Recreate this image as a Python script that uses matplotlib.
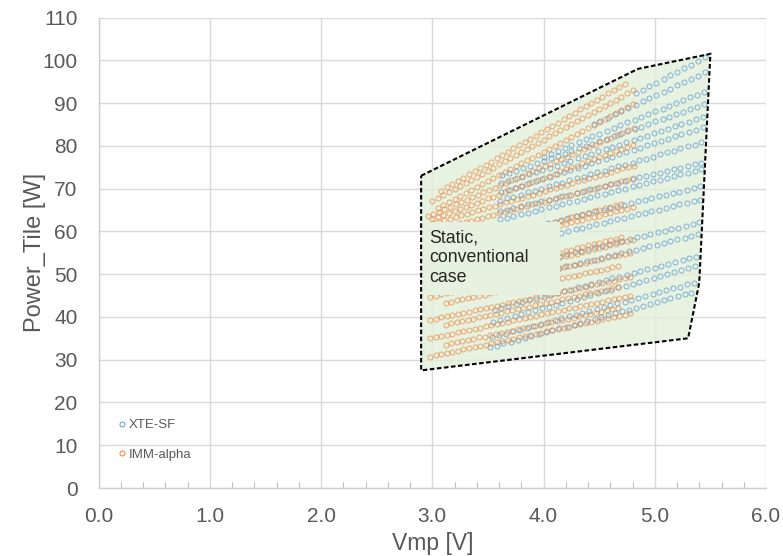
import matplotlib
matplotlib.use("Agg")
import matplotlib.pyplot as plt
from matplotlib.lines import Line2D
from matplotlib.patches import Polygon, Rectangle
from matplotlib.ticker import MultipleLocator

plt.rcParams['font.family'] = ['Liberation Sans', 'DejaVu Sans']

# ---------------- data ----------------
x_ticks = [0, 1, 2, 3, 4, 5, 6]
x_ticklabels = ['0.0', '1.0', '2.0', '3.0', '4.0', '5.0', '6.0']
y_ticks = [0, 10, 20, 30, 40, 50, 60, 70, 80, 90, 100, 110]

# envelope of the "static, conventional case"
env_vmp = [2.90, 4.85, 5.50, 5.40, 5.30, 2.90]
env_pow = [73.0, 98.0, 101.5, 48.0, 35.0, 27.5]

# ---- XTE-SF (Vmp [V], Power [W]) per sweep row ----
xte_v01 = [5.45, 5.39, 5.33, 5.26, 5.20, 5.14, 5.08, 5.01, 4.95, 4.89, 4.83]
xte_p01 = [100.7, 99.9, 99.0, 98.2, 97.3, 96.5, 95.7, 94.8, 94.0, 93.1, 92.3]
xte_v02 = [5.45, 5.39, 5.33, 5.26, 5.20, 5.14, 5.08, 5.01, 4.95, 4.89, 4.83, 4.76, 4.70, 4.64, 4.58, 4.51, 4.45]
xte_p02 = [97.2, 96.4, 95.7, 94.9, 94.2, 93.4, 92.7, 91.9, 91.2, 90.4, 89.6, 88.9, 88.1, 87.4, 86.6, 85.9, 85.1]
xte_v03 = [5.44, 5.38, 5.32, 5.25, 5.19, 5.13, 5.07, 5.00, 4.94, 4.88, 4.82, 4.75, 4.69, 4.63, 4.57, 4.50, 4.44, 4.38, 4.32, 4.25, 4.19, 4.13, 4.07, 4.00]
xte_p03 = [92.7, 92.0, 91.4, 90.7, 90.1, 89.4, 88.7, 88.1, 87.4, 86.8, 86.1, 85.5, 84.8, 84.1, 83.5, 82.8, 82.2, 81.5, 80.8, 80.2, 79.5, 78.9, 78.2, 77.5]
xte_v04 = [5.44, 5.38, 5.32, 5.25, 5.19, 5.13, 5.07, 5.00, 4.94, 4.88, 4.82, 4.75, 4.69, 4.63, 4.57, 4.50, 4.44, 4.38, 4.32, 4.25, 4.19, 4.13, 4.07, 4.00, 3.94, 3.88, 3.82, 3.75, 3.69, 3.63]
xte_p04 = [89.7, 89.1, 88.6, 88.0, 87.4, 86.8, 86.3, 85.7, 85.1, 84.5, 84.0, 83.4, 82.8, 82.2, 81.7, 81.1, 80.5, 79.9, 79.4, 78.8, 78.2, 77.6, 77.1, 76.5, 75.9, 75.4, 74.8, 74.2, 73.6, 73.1]
xte_v05 = [5.43, 5.37, 5.31, 5.24, 5.18, 5.12, 5.06, 4.99, 4.93, 4.87, 4.81, 4.74, 4.68, 4.62, 4.56, 4.49, 4.43, 4.37, 4.31, 4.24, 4.18, 4.12, 4.06, 3.99, 3.93, 3.87, 3.81, 3.74, 3.68, 3.62]
xte_p05 = [86.7, 86.2, 85.6, 85.1, 84.6, 84.0, 83.5, 82.9, 82.4, 81.9, 81.3, 80.8, 80.3, 79.7, 79.2, 78.7, 78.1, 77.6, 77.1, 76.5, 76.0, 75.4, 74.9, 74.4, 73.8, 73.3, 72.8, 72.2, 71.7, 71.2]
xte_v06 = [5.43, 5.37, 5.31, 5.24, 5.18, 5.12, 5.06, 4.99, 4.93, 4.87, 4.81, 4.74, 4.68, 4.62, 4.56, 4.49, 4.43, 4.37, 4.31, 4.24, 4.18, 4.12, 4.06, 3.99, 3.93, 3.87, 3.81, 3.74, 3.68, 3.62]
xte_p06 = [84.3, 83.8, 83.3, 82.7, 82.2, 81.7, 81.2, 80.6, 80.1, 79.6, 79.1, 78.6, 78.0, 77.5, 77.0, 76.5, 75.9, 75.4, 74.9, 74.4, 73.9, 73.3, 72.8, 72.3, 71.8, 71.2, 70.7, 70.2, 69.7, 69.1]
xte_v07 = [5.42, 5.36, 5.30, 5.23, 5.17, 5.11, 5.05, 4.98, 4.92, 4.86, 4.80, 4.73, 4.67, 4.61, 4.55, 4.48, 4.42, 4.36, 4.30, 4.23, 4.17, 4.11, 4.05, 3.98, 3.92, 3.86, 3.80, 3.73, 3.67, 3.61]
xte_p07 = [80.8, 80.3, 79.9, 79.4, 78.9, 78.5, 78.0, 77.5, 77.0, 76.6, 76.1, 75.6, 75.2, 74.7, 74.2, 73.8, 73.3, 72.8, 72.4, 71.9, 71.4, 71.0, 70.5, 70.0, 69.5, 69.1, 68.6, 68.1, 67.7, 67.2]
xte_v08 = [5.42, 5.36, 5.30, 5.23, 5.17, 5.11, 5.05, 4.98, 4.92, 4.86, 4.80, 4.73, 4.67, 4.61, 4.55, 4.48, 4.42, 4.36, 4.30, 4.23, 4.17, 4.11, 4.05, 3.98, 3.92, 3.86, 3.80, 3.73, 3.67, 3.61]
xte_p08 = [76.1, 75.7, 75.3, 74.9, 74.5, 74.1, 73.7, 73.3, 72.9, 72.6, 72.2, 71.8, 71.4, 71.0, 70.6, 70.2, 69.8, 69.4, 69.0, 68.6, 68.2, 67.8, 67.4, 67.0, 66.6, 66.3, 65.9, 65.5, 65.1, 64.7]
xte_v09 = [5.42, 5.36, 5.30, 5.23, 5.17, 5.11, 5.05, 4.98, 4.92, 4.86, 4.80, 4.73, 4.67, 4.61, 4.55, 4.48, 4.42, 4.36, 4.30, 4.23, 4.17, 4.11, 4.05, 3.98, 3.92, 3.86, 3.80, 3.73, 3.67, 3.61]
xte_p09 = [74.5, 74.1, 73.7, 73.3, 72.9, 72.5, 72.1, 71.7, 71.3, 70.9, 70.5, 70.0, 69.6, 69.2, 68.8, 68.4, 68.0, 67.6, 67.2, 66.8, 66.4, 66.0, 65.6, 65.2, 64.8, 64.4, 64.0, 63.6, 63.2, 62.8]
xte_v10 = [5.41, 5.35, 5.29, 5.22, 5.16, 5.10, 5.04, 4.97, 4.91, 4.85, 4.79, 4.72, 4.66, 4.60, 4.54, 4.47, 4.41, 4.35, 4.29, 4.22, 4.16, 4.10, 4.04, 3.97, 3.91, 3.85, 3.79, 3.72, 3.66, 3.60]
xte_p10 = [70.5, 70.1, 69.7, 69.3, 68.9, 68.6, 68.2, 67.8, 67.4, 67.0, 66.6, 66.2, 65.8, 65.4, 65.1, 64.7, 64.3, 63.9, 63.5, 63.1, 62.7, 62.3, 61.9, 61.6, 61.2, 60.8, 60.4, 60.0, 59.6, 59.2]
xte_v11 = [5.41, 5.35, 5.29, 5.22, 5.16, 5.10, 5.04, 4.97, 4.91, 4.85, 4.79, 4.72, 4.66, 4.60, 4.54, 4.47, 4.41, 4.35, 4.29, 4.22, 4.16, 4.10, 4.04, 3.97, 3.91, 3.85, 3.79, 3.72, 3.66, 3.60]
xte_p11 = [67.4, 67.0, 66.6, 66.3, 65.9, 65.5, 65.1, 64.7, 64.3, 64.0, 63.6, 63.2, 62.8, 62.4, 62.0, 61.7, 61.3, 60.9, 60.5, 60.1, 59.7, 59.4, 59.0, 58.6, 58.2, 57.8, 57.4, 57.1, 56.7, 56.3]
xte_v12 = [5.40, 5.34, 5.28, 5.21, 5.15, 5.09, 5.03, 4.96, 4.90, 4.84, 4.78, 4.71, 4.65, 4.59, 4.53, 4.46, 4.40, 4.34, 4.28, 4.21, 4.15, 4.09, 4.03, 3.96, 3.90, 3.84, 3.78, 3.71, 3.65, 3.59]
xte_p12 = [62.1, 61.7, 61.3, 60.9, 60.5, 60.2, 59.8, 59.4, 59.0, 58.6, 58.2, 57.8, 57.4, 57.0, 56.6, 56.3, 55.9, 55.5, 55.1, 54.7, 54.3, 53.9, 53.5, 53.1, 52.7, 52.4, 52.0, 51.6, 51.2, 50.8]
xte_v13 = [5.39, 5.33, 5.27, 5.20, 5.14, 5.08, 5.02, 4.95, 4.89, 4.83, 4.77, 4.70, 4.64, 4.58, 4.52, 4.45, 4.39, 4.33, 4.27, 4.20, 4.14, 4.08, 4.02, 3.95, 3.89, 3.83, 3.77, 3.70, 3.64, 3.58]
xte_p13 = [59.3, 58.9, 58.5, 58.1, 57.7, 57.3, 56.9, 56.5, 56.1, 55.7, 55.3, 54.9, 54.5, 54.2, 53.8, 53.4, 53.0, 52.6, 52.2, 51.8, 51.4, 51.0, 50.6, 50.2, 49.8, 49.4, 49.0, 48.6, 48.2, 47.8]
xte_v14 = [5.37, 5.31, 5.25, 5.18, 5.12, 5.06, 5.00, 4.93, 4.87, 4.81, 4.75, 4.68, 4.62, 4.56, 4.50, 4.43, 4.37, 4.31, 4.25, 4.18, 4.12, 4.06, 4.00, 3.93, 3.87, 3.81, 3.75, 3.68, 3.62, 3.56]
xte_p14 = [54.1, 53.7, 53.2, 52.8, 52.4, 52.0, 51.5, 51.1, 50.7, 50.3, 49.8, 49.4, 49.0, 48.6, 48.1, 47.7, 47.3, 46.9, 46.4, 46.0, 45.6, 45.2, 44.7, 44.3, 43.9, 43.5, 43.0, 42.6, 42.2, 41.7]
xte_v15 = [5.36, 5.30, 5.24, 5.17, 5.11, 5.05, 4.99, 4.92, 4.86, 4.80, 4.74, 4.67, 4.61, 4.55, 4.49, 4.42, 4.36, 4.30, 4.24, 4.17, 4.11, 4.05, 3.99, 3.92, 3.86, 3.80, 3.74, 3.67, 3.61, 3.55]
xte_p15 = [51.8, 51.4, 50.9, 50.5, 50.0, 49.6, 49.1, 48.7, 48.2, 47.8, 47.3, 46.9, 46.4, 46.0, 45.5, 45.1, 44.6, 44.2, 43.8, 43.3, 42.9, 42.4, 42.0, 41.5, 41.1, 40.6, 40.2, 39.7, 39.3, 38.8]
xte_v16 = [5.35, 5.29, 5.23, 5.16, 5.10, 5.04, 4.98, 4.91, 4.85, 4.79, 4.73, 4.66, 4.60, 4.54, 4.48, 4.41, 4.35, 4.29, 4.23, 4.16, 4.10, 4.04, 3.98, 3.91, 3.85, 3.79, 3.73, 3.66, 3.60, 3.54]
xte_p16 = [48.0, 47.6, 47.1, 46.7, 46.2, 45.8, 45.4, 44.9, 44.5, 44.0, 43.6, 43.2, 42.7, 42.3, 41.9, 41.4, 41.0, 40.5, 40.1, 39.7, 39.2, 38.8, 38.3, 37.9, 37.5, 37.0, 36.6, 36.1, 35.7, 35.3]
xte_v17 = [5.33, 5.27, 5.21, 5.14, 5.08, 5.02, 4.96, 4.89, 4.83, 4.77, 4.71, 4.64, 4.58, 4.52, 4.46, 4.39, 4.33, 4.27, 4.21, 4.14, 4.08, 4.02, 3.96, 3.89, 3.83, 3.77, 3.71, 3.64, 3.58, 3.52]
xte_p17 = [45.7, 45.3, 44.8, 44.4, 43.9, 43.5, 43.0, 42.6, 42.2, 41.7, 41.3, 40.8, 40.4, 39.9, 39.5, 39.1, 38.6, 38.2, 37.7, 37.3, 36.9, 36.4, 36.0, 35.5, 35.1, 34.6, 34.2, 33.8, 33.3, 32.9]

# ---- IMM-alpha (Vmp [V], Power [W]) per sweep row ----
imm_v_a = [3.08, 3.13, 3.18, 3.23, 3.28, 3.33, 3.38, 3.43, 3.48, 3.53, 3.58, 3.63, 3.68, 3.73, 3.78, 3.83, 3.88, 3.93, 3.98, 4.03, 4.08, 4.13, 4.18, 4.23, 4.28, 4.33, 4.38, 4.43, 4.48, 4.53, 4.58, 4.63, 4.68, 4.73]
imm_v_b = [3.00, 3.05, 3.10, 3.15, 3.20, 3.25, 3.30, 3.35, 3.40, 3.45, 3.50, 3.55, 3.60, 3.65, 3.70, 3.75, 3.80, 3.85, 3.90, 3.95, 4.00, 4.05, 4.10, 4.15, 4.20, 4.25, 4.30, 4.35, 4.40, 4.45, 4.50, 4.55, 4.60, 4.65, 4.70, 4.75, 4.80]
imm_v_c = [3.05, 3.10, 3.15, 3.20, 3.25, 3.30, 3.35, 3.40, 3.45, 3.50, 3.55, 3.60, 3.65, 3.70, 3.75, 3.80, 3.85, 3.90, 3.95, 4.00, 4.05, 4.10, 4.15, 4.20, 4.25, 4.30, 4.35, 4.40, 4.45, 4.50, 4.55, 4.60, 4.65, 4.70, 4.75, 4.80]
imm_v_d = [2.96, 3.01, 3.06, 3.11, 3.16, 3.21, 3.26, 3.31, 3.36, 3.41, 3.46, 3.51, 3.56, 3.61, 3.66, 3.71, 3.76, 3.81, 3.86, 3.91, 3.96, 4.01, 4.06, 4.11, 4.16, 4.21, 4.26, 4.31, 4.36, 4.41, 4.46, 4.51, 4.56, 4.61, 4.66, 4.71, 4.76, 4.81]
imm_v_e = [3.10, 3.15, 3.20, 3.25, 3.30, 3.35, 3.40, 3.45, 3.50, 3.55, 3.60, 3.65, 3.70, 3.75, 3.80, 3.85, 3.90, 3.95, 4.00, 4.05, 4.10, 4.15, 4.20, 4.25, 4.30, 4.35, 4.40, 4.45, 4.50, 4.55, 4.60, 4.65, 4.70]
imm_v_f = [2.98, 3.03, 3.08, 3.13, 3.18, 3.23, 3.28, 3.33, 3.38, 3.43, 3.48, 3.53, 3.58, 3.63, 3.68, 3.73, 3.78, 3.83, 3.88, 3.93, 3.98, 4.03, 4.08, 4.13, 4.18, 4.23, 4.28, 4.33, 4.38, 4.43, 4.48, 4.53, 4.58, 4.63, 4.68, 4.73, 4.78]
imm_v_g = [3.12, 3.17, 3.22, 3.27, 3.32, 3.37, 3.42, 3.47, 3.52, 3.57, 3.62, 3.67, 3.72, 3.77, 3.82, 3.87, 3.92, 3.97, 4.02, 4.07, 4.12, 4.17, 4.22, 4.27, 4.32, 4.37, 4.42, 4.47, 4.52, 4.57, 4.62, 4.67]

imm_p01 = [69.5, 70.3, 71.0, 71.8, 72.5, 73.3, 74.1, 74.8, 75.6, 76.3, 77.1, 77.8, 78.6, 79.4, 80.1, 80.9, 81.6, 82.4, 83.2, 83.9, 84.7, 85.4, 86.2, 87.0, 87.7, 88.5, 89.2, 90.0, 90.8, 91.5, 92.3, 93.0, 93.8, 94.5]
imm_p02 = [67.0, 67.7, 68.4, 69.2, 69.9, 70.6, 71.3, 72.1, 72.8, 73.5, 74.2, 74.9, 75.7, 76.4, 77.1, 77.8, 78.6, 79.3, 80.0, 80.7, 81.4, 82.2, 82.9, 83.6, 84.3, 85.1, 85.8, 86.5, 87.2, 87.9, 88.7, 89.4, 90.1, 90.8, 91.5, 92.3, 93.0]
imm_p03 = [65.5, 66.2, 66.9, 67.6, 68.3, 69.0, 69.6, 70.3, 71.0, 71.7, 72.4, 73.1, 73.8, 74.5, 75.2, 75.9, 76.6, 77.2, 77.9, 78.6, 79.3, 80.0, 80.7, 81.4, 82.1, 82.8, 83.5, 84.2, 84.8, 85.5, 86.2, 86.9, 87.6, 88.3, 89.0, 89.7]
imm_p04 = [63.5, 64.1, 64.6, 65.2, 65.7, 66.3, 66.9, 67.4, 68.0, 68.5, 69.1, 69.6, 70.2, 70.8, 71.3, 71.9, 72.4, 73.0, 73.6, 74.1, 74.7, 75.2, 75.8, 76.4, 76.9, 77.5, 78.0, 78.6, 79.2, 79.7, 80.3, 80.8, 81.4, 81.9, 82.5, 83.1, 83.6, 84.2]
imm_p05 = [62.8, 63.3, 63.8, 64.3, 64.7, 65.2, 65.7, 66.2, 66.7, 67.2, 67.7, 68.1, 68.6, 69.1, 69.6, 70.1, 70.6, 71.1, 71.5, 72.0, 72.5, 73.0, 73.5, 74.0, 74.5, 75.0, 75.4, 75.9, 76.4, 76.9, 77.4, 77.9, 78.4, 78.8, 79.3, 79.8, 80.3]
imm_p06 = [61.5, 61.9, 62.3, 62.6, 63.0, 63.4, 63.8, 64.1, 64.5, 64.9, 65.3, 65.6, 66.0, 66.4, 66.8, 67.1, 67.5, 67.9, 68.3, 68.6, 69.0, 69.4, 69.8, 70.1, 70.5, 70.9, 71.3, 71.7, 72.0, 72.4, 72.8, 73.2, 73.5, 73.9, 74.3, 74.7, 75.0, 75.4]
imm_p07 = [60.5, 60.8, 61.2, 61.5, 61.9, 62.2, 62.5, 62.9, 63.2, 63.6, 63.9, 64.2, 64.6, 64.9, 65.2, 65.6, 65.9, 66.3, 66.6, 66.9, 67.3, 67.6, 68.0, 68.3, 68.6, 69.0, 69.3, 69.7, 70.0, 70.3, 70.7, 71.0, 71.3, 71.7, 72.0, 72.4]
imm_p08 = [54.0, 54.3, 54.6, 55.0, 55.3, 55.6, 55.9, 56.3, 56.6, 56.9, 57.2, 57.6, 57.9, 58.2, 58.5, 58.9, 59.2, 59.5, 59.8, 60.2, 60.5, 60.8, 61.1, 61.5, 61.8, 62.1, 62.4, 62.7, 63.1, 63.4, 63.7, 64.0, 64.4, 64.7, 65.0, 65.3, 65.7]
imm_p09 = [55.0, 55.4, 55.7, 56.1, 56.4, 56.8, 57.2, 57.5, 57.9, 58.2, 58.6, 58.9, 59.3, 59.7, 60.0, 60.4, 60.7, 61.1, 61.5, 61.8, 62.2, 62.5, 62.9, 63.3, 63.6, 64.0, 64.3, 64.7, 65.1, 65.4, 65.8, 66.1, 66.5]
imm_p10 = [46.5, 46.8, 47.1, 47.5, 47.8, 48.1, 48.4, 48.7, 49.1, 49.4, 49.7, 50.0, 50.3, 50.7, 51.0, 51.3, 51.6, 51.9, 52.3, 52.6, 52.9, 53.2, 53.5, 53.9, 54.2, 54.5, 54.8, 55.1, 55.5, 55.8, 56.1, 56.4, 56.7, 57.1, 57.4, 57.7, 58.0]
imm_p11 = [48.0, 48.3, 48.7, 49.0, 49.3, 49.7, 50.0, 50.3, 50.7, 51.0, 51.3, 51.7, 52.0, 52.3, 52.7, 53.0, 53.3, 53.7, 54.0, 54.3, 54.7, 55.0, 55.3, 55.7, 56.0, 56.3, 56.7, 57.0, 57.3, 57.7, 58.0, 58.3, 58.7]
imm_p12 = [44.7, 45.0, 45.3, 45.6, 45.8, 46.1, 46.4, 46.7, 47.0, 47.3, 47.6, 47.9, 48.1, 48.4, 48.7, 49.0, 49.3, 49.6, 49.9, 50.2, 50.4, 50.7, 51.0, 51.3, 51.6, 51.9, 52.2, 52.4, 52.7, 53.0, 53.3, 53.6, 53.9, 54.2, 54.5, 54.7, 55.0]
imm_p13 = [43.3, 43.6, 43.9, 44.1, 44.4, 44.7, 45.0, 45.2, 45.5, 45.8, 46.1, 46.3, 46.6, 46.9, 47.2, 47.4, 47.7, 48.0, 48.3, 48.5, 48.8, 49.1, 49.4, 49.6, 49.9, 50.2, 50.5, 50.7, 51.0, 51.3, 51.6, 51.8]
imm_p14 = [39.3, 39.6, 39.9, 40.1, 40.4, 40.7, 41.0, 41.2, 41.5, 41.8, 42.1, 42.4, 42.6, 42.9, 43.2, 43.5, 43.7, 44.0, 44.3, 44.6, 44.9, 45.1, 45.4, 45.7, 46.0, 46.3, 46.5, 46.8, 47.1, 47.4, 47.6, 47.9, 48.2, 48.5, 48.8, 49.0, 49.3]
imm_p15 = [38.2, 38.5, 38.8, 39.0, 39.3, 39.6, 39.9, 40.2, 40.5, 40.7, 41.0, 41.3, 41.6, 41.9, 42.1, 42.4, 42.7, 43.0, 43.3, 43.6, 43.8, 44.1, 44.4, 44.7, 45.0, 45.3, 45.5, 45.8, 46.1, 46.4, 46.7, 46.9]
imm_p16 = [35.0, 35.3, 35.6, 35.8, 36.1, 36.4, 36.7, 36.9, 37.2, 37.5, 37.8, 38.1, 38.3, 38.6, 38.9, 39.2, 39.4, 39.7, 40.0, 40.3, 40.6, 40.8, 41.1, 41.4, 41.7, 42.0, 42.2, 42.5, 42.8, 43.1, 43.3, 43.6, 43.9, 44.2, 44.5, 44.7, 45.0]
imm_p17 = [33.5, 33.8, 34.1, 34.3, 34.6, 34.9, 35.2, 35.4, 35.7, 36.0, 36.3, 36.5, 36.8, 37.1, 37.4, 37.6, 37.9, 38.2, 38.5, 38.7, 39.0, 39.3, 39.5, 39.8, 40.1, 40.4, 40.6, 40.9, 41.2, 41.5, 41.8, 42.0]
imm_p18 = [30.7, 31.0, 31.3, 31.5, 31.8, 32.1, 32.4, 32.7, 32.9, 33.2, 33.5, 33.8, 34.1, 34.4, 34.6, 34.9, 35.2, 35.5, 35.8, 36.0, 36.3, 36.6, 36.9, 37.2, 37.4, 37.7, 38.0, 38.3, 38.6, 38.8, 39.1, 39.4, 39.7, 40.0, 40.3, 40.5, 40.8]

xte_rows = [(xte_v01, xte_p01), (xte_v02, xte_p02), (xte_v03, xte_p03), (xte_v04, xte_p04),
            (xte_v05, xte_p05), (xte_v06, xte_p06), (xte_v07, xte_p07), (xte_v08, xte_p08),
            (xte_v09, xte_p09), (xte_v10, xte_p10), (xte_v11, xte_p11), (xte_v12, xte_p12),
            (xte_v13, xte_p13), (xte_v14, xte_p14), (xte_v15, xte_p15), (xte_v16, xte_p16),
            (xte_v17, xte_p17)]
imm_rows = [(imm_v_a, imm_p01), (imm_v_b, imm_p02), (imm_v_c, imm_p03), (imm_v_d, imm_p04),
            (imm_v_b, imm_p05), (imm_v_d, imm_p06), (imm_v_c, imm_p07), (imm_v_b, imm_p08),
            (imm_v_e, imm_p09), (imm_v_b, imm_p10), (imm_v_e, imm_p11), (imm_v_f, imm_p12),
            (imm_v_g, imm_p13), (imm_v_f, imm_p14), (imm_v_g, imm_p15), (imm_v_f, imm_p16),
            (imm_v_g, imm_p17), (imm_v_f, imm_p18)]

xte_vmp = [v for row in xte_rows for v in row[0]]
xte_pow = [p for row in xte_rows for p in row[1]]
imm_vmp = [v for row in imm_rows for v in row[0]]
imm_pow = [p for row in imm_rows for p in row[1]]

# ---------------- figure ----------------
fig = plt.figure(figsize=(7.83, 5.56), dpi=100)
ax = fig.add_axes([0.1258, 0.1223, 0.8525, 0.8462])

grey_txt = '#595959'
grid_c = '#d9d9d9'
blue = '#5B9BD5'
orange = '#ED7D31'
msize = 3.6
medge = 0.7

ax.set_xlim(0, 6)
ax.set_ylim(0, 110)
ax.set_xticks(x_ticks)
ax.set_xticklabels(x_ticklabels)
ax.set_yticks(y_ticks)
ax.xaxis.set_minor_locator(MultipleLocator(0.2))
ax.grid(True, which='major', color=grid_c, lw=1.0)
ax.set_axisbelow(True)
for s in ['top', 'right']:
    ax.spines[s].set_visible(False)
for s in ['left', 'bottom']:
    ax.spines[s].set_color('#cfcfcf')
    ax.spines[s].set_linewidth(1.0)
ax.tick_params(axis='x', which='major', length=0, pad=14, labelsize=15, labelcolor=grey_txt)
ax.tick_params(axis='x', which='minor', length=4, direction='in', color='#bfbfbf', width=0.8)
ax.tick_params(axis='y', which='major', length=0, pad=15, labelsize=15, labelcolor=grey_txt)

# envelope polygon (fill + dashed outline)
env_pts = list(zip(env_vmp, env_pow))
ax.add_patch(Polygon(env_pts, closed=True, facecolor='#E2EFDA', edgecolor='none',
                     alpha=0.8, zorder=1))

ax.plot(xte_vmp, xte_pow, linestyle='none', marker='o', markersize=msize,
        markerfacecolor='none', markeredgecolor=blue, markeredgewidth=medge,
        alpha=0.75, zorder=2, label='XTE-SF')
ax.plot(imm_vmp, imm_pow, linestyle='none', marker='o', markersize=msize,
        markerfacecolor='none', markeredgecolor=orange, markeredgewidth=medge,
        alpha=0.65, zorder=3, label='IMM-alpha')

# label box
ax.add_patch(Rectangle((2.92, 45.2), 1.23, 17.1, facecolor='#E6F1DF', edgecolor='none', zorder=4))
ax.text(2.97, 60.4, 'Static,\nconventional\ncase', fontsize=12.8, color='#262626',
        va='top', ha='left', linespacing=1.2, zorder=5)

ax.add_patch(Polygon(env_pts, closed=True, facecolor='none', edgecolor='black',
                     lw=1.5, linestyle=(0, (2.2, 1.2)), zorder=6))

ax.set_ylabel('Power_Tile [W]', fontsize=17, color=grey_txt)
ax.yaxis.set_label_coords(-0.078, 0.5)
ax.set_xlabel('Vmp [V]', fontsize=16.5, color=grey_txt, va='bottom')
ax.xaxis.set_label_coords(0.5, -0.1415)

handles = [Line2D([], [], linestyle='none', marker='o', markersize=msize, markerfacecolor='none',
                  markeredgecolor=blue, markeredgewidth=medge),
           Line2D([], [], linestyle='none', marker='o', markersize=msize, markerfacecolor='none',
                  markeredgecolor=orange, markeredgewidth=medge)]
ax.legend(handles, ['XTE-SF', 'IMM-alpha'], loc='upper left', bbox_to_anchor=(0.022, 0.158),
          frameon=False, fontsize=9.5, handlelength=0.5, handletextpad=0.3,
          labelspacing=1.3, labelcolor=grey_txt, borderaxespad=0)

fig.savefig('out.png', dpi=100)
